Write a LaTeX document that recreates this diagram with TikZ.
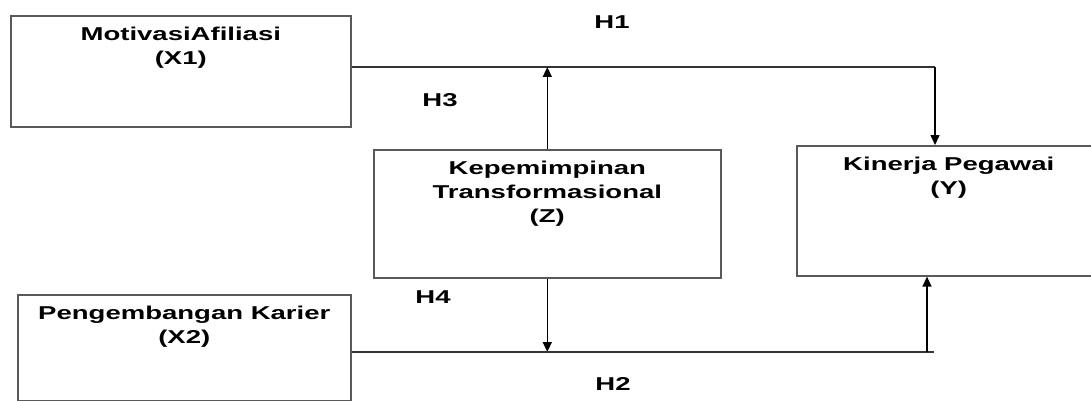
\documentclass[tikz,border=0pt]{standalone}
\usepackage{fontspec}
\setmainfont{Liberation Sans}
\newfontfamily\widefont[FakeStretch=1.48]{Liberation Sans}
\usetikzlibrary{arrows.meta}
\newcommand\boxtext[3]{\parbox[c][#2][t]{#1}{\centering\vspace*{11pt}#3\par}}
\tikzset{
  varbox/.style={draw=black!65, line width=1.6pt, inner sep=0pt, anchor=north west,
    font=\widefont\bfseries\fontsize{18.6}{24}\selectfont},
  hlabel/.style={font=\widefont\bfseries\fontsize{18.6}{24}\selectfont, inner sep=0pt},
  conn/.style={draw=black!80, line width=1.5pt},
  arr/.style={draw=black, line width=1.5pt, -{Triangle[length=10pt,width=9pt]}}
}
\begin{document}
\begin{tikzpicture}[x=1pt,y=-1pt]
\useasboundingbox (0,0) rectangle (1091,401);
\clip (0,0) rectangle (1091,401);
% boxes
\node[varbox] (X1) at (10,15) {\boxtext{340pt}{111pt}{MotivasiAfiliasi\\(X1)}};
\node[varbox] (Z) at (373,149) {\boxtext{347pt}{128pt}{Kepemimpinan\\Transformasional\\(Z)}};
\node[varbox] (Y) at (796,145) {\boxtext{304pt}{130pt}{Kinerja Pegawai\\(Y)}};
\node[varbox] (X2) at (17,294) {\boxtext{333pt}{106pt}{Pengembangan Karier\\(X2)}};
% labels
\node[hlabel] (h1) at (612,22) {H1};
\node[hlabel] (h3) at (440,100) {H3};
\node[hlabel] (h4) at (433,297) {H4};
\node[hlabel] (h2) at (613,384) {H2};
% connectors
\coordinate (c1) at (935,67);
\coordinate (c2) at (927,352);
\coordinate (c2e) at (934,352);
\draw[conn] (X1.east |- c1) -- (c1);
\draw[arr] (c1) -- (Y.north -| c1);
\draw[arr] (Z.north) -- (Z.north |- c1);
\draw[arr] (Z.south) -- (Z.south |- c2);
\draw[conn] (X2.east |- c2) -- (c2e);
\draw[arr] (c2) -- (Y.south -| c2);
\end{tikzpicture}
\end{document}
